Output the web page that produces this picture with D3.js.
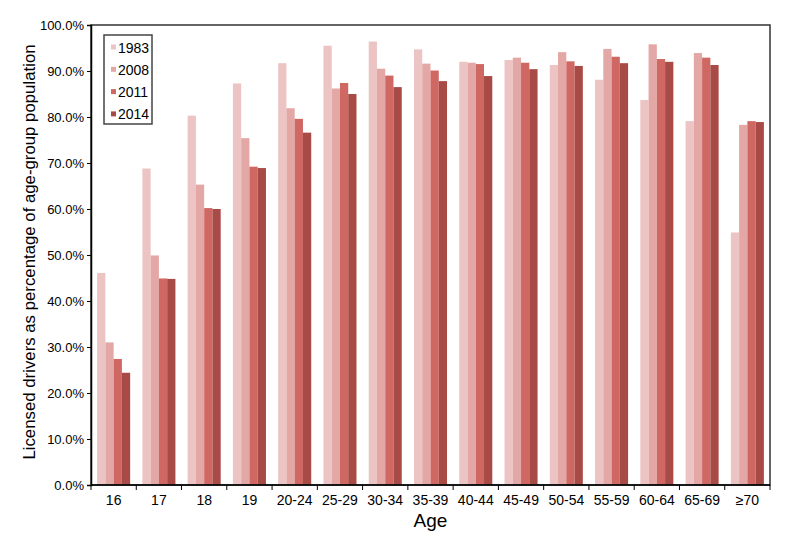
<!DOCTYPE html>
<html>
<head>
<meta charset="utf-8">
<script src="https://cdn.jsdelivr.net/npm/d3@7"></script>
<style>
  body { margin: 0; background: #fff; }
  text { font-family: Arial, "Liberation Sans", Helvetica, sans-serif; fill: #000; }
</style>
</head>
<body>
<div id="chart"></div>
<script>
const ages = ["16", "17", "18", "19", "20-24", "25-29", "30-34", "35-39", "40-44",
  "45-49", "50-54", "55-59", "60-64", "65-69", "≥70"];
const years = ["1983", "2008", "2011", "2014"];
const colors = ["#ecc4c4", "#e3a7a5", "#cf6762", "#a84a46"];

const v1983 = [46.1, 68.8, 80.3, 87.3, 91.7, 95.5, 96.4, 94.7, 92.0, 92.4, 91.3, 88.1, 83.7, 79.1, 54.9];
const v2008 = [31.0, 49.9, 65.3, 75.4, 81.9, 86.2, 90.5, 91.6, 91.8, 92.9, 94.1, 94.8, 95.8, 93.9, 78.3];
const v2011 = [27.4, 44.9, 60.2, 69.2, 79.6, 87.4, 89.0, 90.1, 91.5, 91.8, 92.1, 93.1, 92.6, 92.9, 79.1];
const v2014 = [24.4, 44.8, 60.0, 68.9, 76.6, 85.0, 86.5, 87.8, 88.9, 90.4, 91.1, 91.7, 92.0, 91.3, 78.9];
const yTicks = [0, 10, 20, 30, 40, 50, 60, 70, 80, 90, 100];

const series = [v1983, v2008, v2011, v2014];

const margin = { top: 25, right: 30, bottom: 54, left: 91 };
const W = 800, H = 539;
const width = W - margin.left - margin.right;
const height = H - margin.top - margin.bottom;

const svg = d3.select("#chart").append("svg")
  .attr("width", W)
  .attr("height", H);

const g = svg.append("g")
  .attr("transform", `translate(${margin.left},${margin.top})`);

const x0 = d3.scaleBand().domain(ages).range([0, width]).paddingInner(0.27).paddingOuter(0.135);
const x1 = d3.scaleBand().domain(years).range([0, x0.bandwidth()]);
const y = d3.scaleLinear().domain([0, 100]).range([height, 0]);
const xEdge = d3.scaleLinear().domain([0, ages.length]).range([0, width]);

// bars
const groups = g.selectAll(".grp")
  .data(ages)
  .join("g")
  .attr("class", "grp")
  .attr("transform", d => `translate(${x0(d)},0)`);

groups.selectAll("rect")
  .data((d, i) => years.map((yr, j) => ({ yr, j, v: series[j][i] })))
  .join("rect")
  .attr("x", d => x1(d.yr))
  .attr("width", x1.bandwidth())
  .attr("y", d => y(d.v))
  .attr("height", d => y(0) - y(d.v))
  .attr("fill", d => colors[d.j]);

// frame
g.append("rect")
  .attr("width", width)
  .attr("height", height)
  .attr("fill", "none")
  .attr("stroke", "#333")
  .attr("stroke-width", 1.5);

// y axis
const yAxis = g.append("g")
  .call(d3.axisLeft(y).tickValues(yTicks).tickSize(4).tickPadding(3)
    .tickFormat(d => d.toFixed(1) + "%"));
yAxis.select(".domain").attr("stroke", "#000").attr("stroke-width", 1.5);
yAxis.selectAll("text").style("font-size", "13px");

// x axis: ticks at band boundaries, labels at band centers
const xAxis = g.append("g").attr("transform", `translate(0,${height})`);
xAxis.append("line").attr("x1", 0).attr("x2", width).attr("stroke", "#000").attr("stroke-width", 1.5);
xAxis.selectAll(".tk")
  .data(d3.range(ages.length + 1))
  .join("line")
  .attr("class", "tk")
  .attr("x1", d => xEdge(d)).attr("x2", d => xEdge(d))
  .attr("y1", 0).attr("y2", 5)
  .attr("stroke", "#000");
xAxis.selectAll(".lbl")
  .data(ages)
  .join("text")
  .attr("class", "lbl")
  .attr("x", d => x0(d) + x0.bandwidth() / 2)
  .attr("y", 20)
  .attr("text-anchor", "middle")
  .style("font-size", "14px")
  .text(d => d);

// axis titles
svg.append("text")
  .attr("x", margin.left + width / 2)
  .attr("y", 527)
  .attr("text-anchor", "middle")
  .style("font-size", "19px")
  .text("Age");

svg.append("text")
  .attr("transform", `translate(35,${margin.top + height / 2 - 3}) rotate(-90)`)
  .attr("text-anchor", "middle")
  .style("font-size", "16.8px")
  .text("Licensed drivers as percentage of age-group population");

// legend
const legend = svg.append("g").attr("transform", "translate(104,35)");
legend.append("rect")
  .attr("width", 48)
  .attr("height", 89)
  .attr("fill", "#fff")
  .attr("stroke", "#444")
  .attr("stroke-width", 1.5);
const items = legend.selectAll(".item")
  .data(years)
  .join("g")
  .attr("class", "item")
  .attr("transform", (d, i) => `translate(0,${12.5 + i * 22.3})`);
items.append("rect")
  .attr("x", 7).attr("y", -3)
  .attr("width", 5).attr("height", 5)
  .attr("fill", (d, i) => colors[i]);
items.append("text")
  .attr("x", 14)
  .attr("y", 5)
  .style("font-size", "14px")
  .text(d => d);
</script>
</body>
</html>
